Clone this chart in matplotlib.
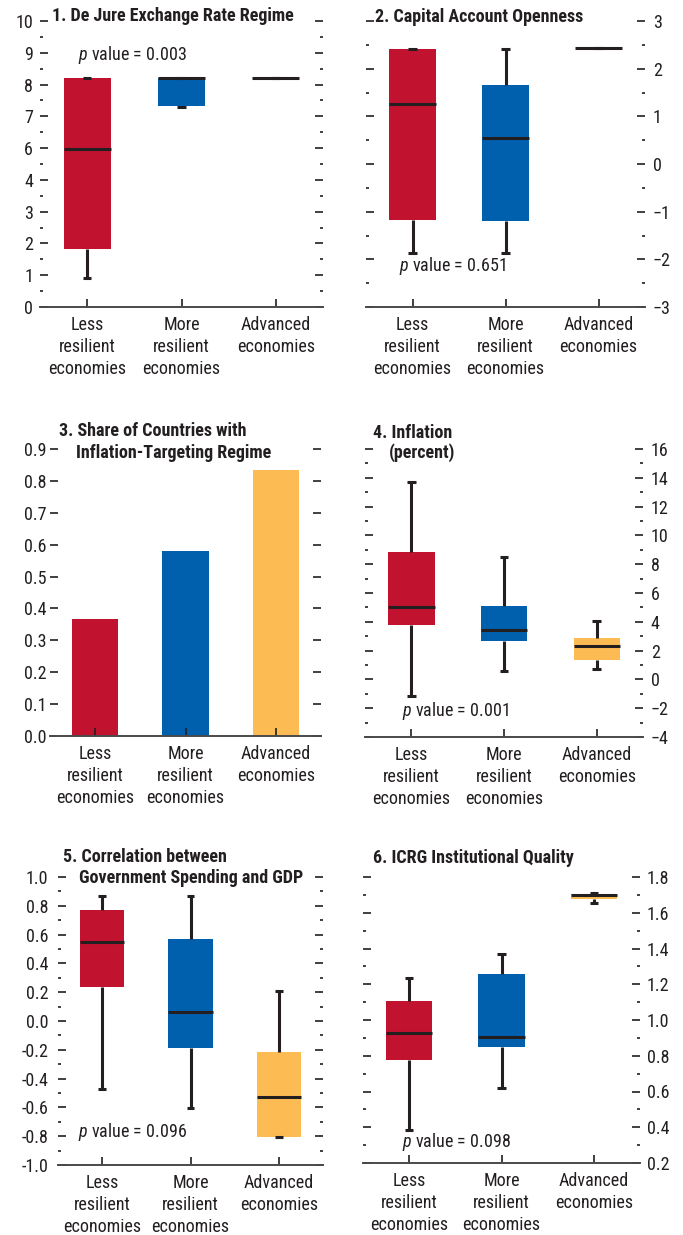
import numpy as np
import matplotlib
matplotlib.use("Agg")
import matplotlib.pyplot as plt
from matplotlib import font_manager as fm
from matplotlib.ticker import MultipleLocator, FixedLocator, FixedFormatter, FormatStrFormatter

_installed = {f.name for f in fm.fontManager.ttflist}
MAIN = next(n for n in ["Roboto Condensed", "Archivo Narrow", "DejaVu Sans"] if n in _installed)
plt.rcParams["font.family"] = [MAIN, "DejaVu Sans"]
plt.rcParams["mathtext.fontset"] = "custom"
plt.rcParams["mathtext.it"] = MAIN + ":italic"
plt.rcParams["mathtext.rm"] = MAIN

W, H = 683, 1235
GROUPS = ["Less\nresilient\neconomies", "More\nresilient\neconomies", "Advanced\neconomies"]
COLORS = ["#C11230", "#0060AE", "#FDBC53"]
DARK = "#231F20"

# 1. De Jure Exchange Rate Regime (printed scale, labels evenly spaced)
p1_ticks = [0, 1, 2, 3, 4, 6, 7, 8, 9, 10]
p1_q1 = [1.82, 7.33, 8.2]
p1_med = [5.95, 8.2, 8.2]
p1_q3 = [8.22, 8.22, 8.2]
p1_lo = [0.91, 7.28, 8.2]
p1_hi = [8.22, 8.22, 8.2]

# 2. Capital Account Openness
p2_q1 = [-1.17, -1.19, 2.44]
p2_med = [1.25, 0.55, 2.44]
p2_q3 = [2.42, 1.65, 2.44]
p2_lo = [-1.87, -1.87, 2.44]
p2_hi = [2.42, 2.42, 2.44]

# 3. Share of Countries with Inflation-Targeting Regime
p3_share = [0.367, 0.58, 0.834]

# 4. Inflation (percent)
p4_q1 = [3.75, 2.64, 1.32]
p4_med = [5.03, 3.45, 2.32]
p4_q3 = [8.85, 5.10, 2.87]
p4_lo = [-1.18, 0.61, 0.75]
p4_hi = [13.71, 8.48, 4.08]

# 5. Correlation between Government Spending and GDP
p5_q1 = [0.237, -0.188, -0.803]
p5_med = [0.551, 0.061, -0.528]
p5_q3 = [0.773, 0.572, -0.216]
p5_lo = [-0.47, -0.602, -0.808]
p5_hi = [0.868, 0.868, 0.209]

# 6. ICRG Institutional Quality
p6_q1 = [0.779, 0.851, 1.677]
p6_med = [0.927, 0.907, 1.698]
p6_q3 = [1.106, 1.257, 1.707]
p6_lo = [0.382, 0.617, 1.655]
p6_hi = [1.236, 1.367, 1.711]

P_VALUES = ["0.003", "0.651", "0.001", "0.096", "0.098"]


def px_axes(fig, left, right, top, bottom):
    return fig.add_axes([left / W, 1 - bottom / H, (right - left) / W, (bottom - top) / H])


def style(ax, side, major, minor=None, pad=5.5):
    for s in ("top", "left", "right"):
        ax.spines[s].set_visible(False)
    ax.spines["bottom"].set_linewidth(1.4)
    ax.spines["bottom"].set_color("#4a4a4a")
    ax.set_xlim(-0.5, 2.5)
    ax.set_xticks([0, 1, 2])
    ax.set_xticklabels(GROUPS, fontsize=13, color=DARK, linespacing=1.3)
    ax.tick_params(axis="x", direction="in", length=6, width=1.2, color=DARK, pad=6.5)
    ax.yaxis.set_major_locator(MultipleLocator(major))
    if minor:
        ax.yaxis.set_minor_locator(MultipleLocator(minor))
    ax.tick_params(axis="y", which="both", direction="in", left=True, right=True,
                   labelleft=(side == "left"), labelright=(side == "right"),
                   color=DARK, labelsize=13, labelcolor=DARK, pad=pad)
    ax.tick_params(axis="y", which="major", length=6, width=1.2)
    ax.tick_params(axis="y", which="minor", length=2.5, width=1.2)


def boxes(ax, q1, med, q3, lo, hi):
    stats = [dict(q1=a, med=m, q3=b, whislo=l, whishi=h, fliers=[])
             for a, m, b, l, h in zip(q1, med, q3, lo, hi)]
    art = ax.bxp(stats, positions=[0, 1, 2], widths=0.5, capwidths=0.09,
                 patch_artist=True, showfliers=False,
                 boxprops=dict(linewidth=0),
                 medianprops=dict(color=DARK, linewidth=2.2, solid_capstyle="butt", zorder=4),
                 whiskerprops=dict(color=DARK, linewidth=2.2, solid_capstyle="butt"),
                 capprops=dict(color=DARK, linewidth=2.2, solid_capstyle="butt", zorder=4))
    for patch, c in zip(art["boxes"], COLORS):
        patch.set_facecolor(c)
        patch.set_edgecolor(c)


def title(fig, x, y, text, x2=None, y2=None, text2=None):
    kw = dict(fontsize=13, fontweight="bold", color=DARK, va="baseline", ha="left")
    fig.text(x / W, 1 - y / H, text, **kw)
    if text2:
        fig.text(x2 / W, 1 - y2 / H, text2, **kw)


def pval(ax, x, y, value):
    ax.text(x, y, r"$p$" + " value = " + value, fontsize=13, color=DARK,
            ha="left", va="center")


fig = plt.figure(figsize=(W / 100, H / 100), dpi=100)

# panel 1
ax = px_axes(fig, 40, 323, 21, 307)
pos = np.arange(len(p1_ticks))
m = lambda v: np.interp(v, p1_ticks, pos)
boxes(ax, m(p1_q1), m(p1_med), m(p1_q3), m(p1_lo), m(p1_hi))
style(ax, "left", 1, 0.5, pad=5)
ax.set_ylim(0, pos[-1])
ax.yaxis.set_major_locator(FixedLocator(pos))
ax.yaxis.set_major_formatter(FixedFormatter([str(t) for t in p1_ticks]))
pval(ax, -0.1, m(8.92), P_VALUES[0])
title(fig, 52, 21, "1. De Jure Exchange Rate Regime")

# panel 2
ax = px_axes(fig, 366, 645, 21, 307)
boxes(ax, p2_q1, p2_med, p2_q3, p2_lo, p2_hi)
style(ax, "right", 1, 0.5)
ax.set_ylim(-3, 3)
pval(ax, -0.14, -2.15, P_VALUES[1])
title(fig, 375, 22, "2. Capital Account Openness")

# panel 3
ax = px_axes(fig, 50, 321, 449, 736)
ax.bar([0, 1, 2], p3_share, width=0.51, color=COLORS)
style(ax, "left", 0.1, pad=2.5)
ax.set_ylim(0, 0.9)
ax.yaxis.set_major_formatter(FormatStrFormatter("%.1f"))
title(fig, 59, 436, "3. Share of Countries with", 76, 458, "Inflation-Targeting Regime")

# panel 4
ax = px_axes(fig, 365, 643, 449, 737)
boxes(ax, p4_q1, p4_med, p4_q3, p4_lo, p4_hi)
style(ax, "right", 2, 1)
ax.set_ylim(-4, 16)
pval(ax, -0.1, -2.2, P_VALUES[2])
title(fig, 373, 438, "4. Inflation", 389, 458, "(percent)")

# panel 5
ax = px_axes(fig, 58, 323, 877, 1165)
boxes(ax, p5_q1, p5_med, p5_q3, p5_lo, p5_hi)
style(ax, "left", 0.2, 0.1, pad=7)
ax.set_ylim(-1, 1)
ax.yaxis.set_major_formatter(FormatStrFormatter("%.1f"))
pval(ax, -0.27, -0.77, P_VALUES[3])
title(fig, 63, 862, "5. Correlation between", 79, 883, "Government Spending and GDP")

# panel 6
ax = px_axes(fig, 363, 640, 877, 1163)
boxes(ax, p6_q1, p6_med, p6_q3, p6_lo, p6_hi)
style(ax, "right", 0.2, 0.1, pad=5)
ax.set_ylim(0.2, 1.8)
ax.yaxis.set_major_formatter(FormatStrFormatter("%.1f"))
pval(ax, -0.08, 0.32, P_VALUES[4])
title(fig, 373, 863, "6. ICRG Institutional Quality")

fig.savefig("out.png", dpi=100)
